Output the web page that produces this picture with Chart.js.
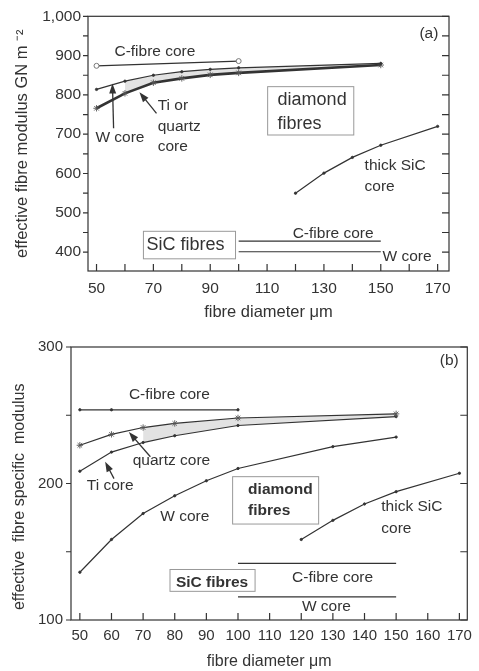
<!DOCTYPE html>
<html>
<head>
<meta charset="utf-8">
<script src="https://cdn.jsdelivr.net/npm/chart.js@4.4.1/dist/chart.umd.min.js"></script>
<style>
body { margin: 0; background: #fff; }
canvas { position: absolute; left: 0; }
#chartA { top: 0; }
#chartB { top: 330px; }
</style>
</head>
<body>
<canvas id="chartA" width="479" height="330"></canvas>
<canvas id="chartB" width="479" height="341"></canvas>
<script>
// (a) effective fibre modulus, GN m-2
var cCoreA_x = [50, 100];
var cCoreA = [874, 886];
var coreA_x = [50, 60, 70, 80, 90, 100, 150];
var wCoreA = [814, 835, 850, 859, 865, 869, 880];
var tiCoreA = [766, 804, 831, 842, 851, 856, 876];
var thickSicA_x = [120, 130, 140, 150, 170];
var thickSicA = [550, 601, 641, 672, 720];
var sicA_x = [100, 150];
var sicCA = [428, 428];
var sicWA = [401, 401];
var xTicksA = [50, 60, 70, 80, 90, 100, 110, 120, 130, 140, 150, 160, 170];
var xLabelsA = [50, 70, 90, 110, 130, 150, 170];
var yTicksA = [400, 450, 500, 550, 600, 650, 700, 750, 800, 850, 900, 950, 1000];
var yLabelsA = [400, 500, 600, 700, 800, 900, 1000];

// (b) effective fibre specific modulus
var cCoreB_x = [50, 60, 100];
var cCoreB = [254, 254, 254];
var coreB_x = [50, 60, 70, 80, 100, 150];
var quartzB = [228, 236, 241, 244, 248, 251];
var tiB = [209, 223, 230, 235, 242.5, 249];
var wCoreB_x = [50, 60, 70, 80, 90, 100, 130, 150];
var wCoreB = [135, 159, 178, 191, 202, 211, 227, 234];
var thickSicB_x = [120, 130, 140, 150, 170];
var thickSicB = [159, 173, 185, 194, 207.5];
var sicB_x = [100, 150];
var sicCB = [141.5, 141.5];
var sicWB = [117, 117];
var xTicksB = [50, 60, 70, 80, 90, 100, 110, 120, 130, 140, 150, 160, 170];
var xLabelsB = xTicksB;
var yTicksB = [100, 150, 200, 250, 300];
var yLabelsB = [100, 200, 300];

// annotations, placed in data units
var textsA = [
    {text: 'C-fibre core', x: 56.3, y: 909},
    {text: 'W core', x: 49.6, y: 690},
    {text: 'Ti or', x: 71.5, y: 773},
    {text: 'quartz', x: 71.5, y: 718},
    {text: 'core', x: 71.5, y: 667},
    {text: 'thick SiC', x: 144.3, y: 620},
    {text: 'core', x: 144.3, y: 567},
    {text: 'C-fibre core', x: 119, y: 448},
    {text: 'W core', x: 150.6, y: 388},
    {text: '(a)', x: 163.6, y: 955},
    {text: 'diamond', x: 113.7, y: 788, big: true},
    {text: 'fibres', x: 113.7, y: 725, big: true},
    {text: 'SiC fibres', x: 81.3, y: 418, big: true, align: 'center'}
];
var arrowsA = [
    {x0: 56, y0: 715, x1: 55.6, y1: 829},
    {x0: 71.1, y0: 753, x1: 65.1, y1: 807}
];
var boxesA = [
    {x0: 110.2, y0: 821, x1: 140.5, y1: 698},
    {x0: 66.5, y0: 453, x1: 98.9, y1: 383}
];

var textsB = [
    {text: 'C-fibre core', x: 65.5, y: 265.2},
    {text: 'quartz core', x: 66.7, y: 216.7},
    {text: 'Ti core', x: 52.2, y: 198.6},
    {text: 'W core', x: 75.4, y: 175.4},
    {text: 'thick SiC', x: 145.3, y: 183.3},
    {text: 'core', x: 145.3, y: 166.7},
    {text: 'C-fibre core', x: 117.1, y: 131.2},
    {text: 'W core', x: 120.2, y: 109.4},
    {text: '(b)', x: 163.8, y: 289.9},
    {text: 'diamond', x: 103.2, y: 195.7, big: true},
    {text: 'fibres', x: 103.2, y: 179.7, big: true},
    {text: 'SiC fibres', x: 91.8, y: 127.5, big: true, align: 'center'}
];
var arrowsB = [
    {x0: 72.3, y0: 219.6, x1: 65.5, y1: 237.7},
    {x0: 60.8, y0: 203.6, x1: 58, y1: 216}
];
var boxesB = [
    {x0: 98.3, y0: 205, x1: 125.5, y1: 170.3},
    {x0: 78.5, y0: 137, x1: 105.4, y1: 121}
];

var ink = '#333';
var shade = '#e2e2e2';
var fontFamily = "'Liberation Sans', Arial, sans-serif";
Chart.defaults.font.family = fontFamily;
Chart.defaults.color = ink;

function pts(xs, ys) {
    return xs.map(function(x, i) { return {x: x, y: ys[i]}; });
}

function line(xs, ys, opts) {
    return Object.assign({
        data: pts(xs, ys),
        borderColor: ink,
        borderWidth: 1.2,
        pointRadius: 0,
        pointStyle: 'circle',
        pointBackgroundColor: ink,
        pointBorderColor: ink,
        pointBorderWidth: 1,
        fill: false,
        tension: 0
    }, opts);
}

var dot = {pointRadius: 1.2, pointBorderWidth: 0.8};
var star = {pointStyle: 'star', pointRadius: 3.2, pointBorderWidth: 0.9, pointBorderColor: '#555'};

// frame, tick marks and the text/arrows/boxes
function decor(spec) {
    return {
        id: 'decor',
        afterDraw: function(chart) {
            var ctx = chart.ctx, a = chart.chartArea;
            var x = chart.scales.x, y = chart.scales.y;
            ctx.save();
            ctx.strokeStyle = ink;
            ctx.lineWidth = 1.2;
            ctx.strokeRect(a.left, a.top, a.right - a.left, a.bottom - a.top);
            ctx.beginPath();
            x.ticks.forEach(function(t) {
                var px = x.getPixelForValue(t.value);
                ctx.moveTo(px, a.bottom);
                ctx.lineTo(px, a.bottom - 7);
            });
            y.ticks.forEach(function(t) {
                var py = y.getPixelForValue(t.value);
                ctx.moveTo(a.left - 5, py);
                ctx.lineTo(a.left, py);
                ctx.moveTo(a.right, py);
                ctx.lineTo(a.right - 7, py);
            });
            ctx.stroke();

            ctx.strokeStyle = '#999';
            ctx.lineWidth = 1;
            spec.boxes.forEach(function(b) {
                var l = x.getPixelForValue(b.x0), r = x.getPixelForValue(b.x1);
                var t = y.getPixelForValue(b.y0), bt = y.getPixelForValue(b.y1);
                ctx.strokeRect(l, t, r - l, bt - t);
            });

            ctx.fillStyle = ink;
            ctx.textBaseline = 'middle';
            spec.texts.forEach(function(t) {
                ctx.font = t.big ? spec.bigFont : spec.font;
                ctx.textAlign = t.align || 'left';
                ctx.fillText(t.text, x.getPixelForValue(t.x), y.getPixelForValue(t.y));
            });

            ctx.strokeStyle = ink;
            ctx.lineWidth = 1.3;
            spec.arrows.forEach(function(ar) {
                var x0 = x.getPixelForValue(ar.x0), y0 = y.getPixelForValue(ar.y0);
                var x1 = x.getPixelForValue(ar.x1), y1 = y.getPixelForValue(ar.y1);
                var ang = Math.atan2(y1 - y0, x1 - x0);
                ctx.beginPath();
                ctx.moveTo(x0, y0);
                ctx.lineTo(x1 - 6 * Math.cos(ang), y1 - 6 * Math.sin(ang));
                ctx.stroke();
                ctx.beginPath();
                ctx.moveTo(x1, y1);
                ctx.lineTo(x1 - 10 * Math.cos(ang) + 3.5 * Math.sin(ang), y1 - 10 * Math.sin(ang) - 3.5 * Math.cos(ang));
                ctx.lineTo(x1 - 10 * Math.cos(ang) - 3.5 * Math.sin(ang), y1 - 10 * Math.sin(ang) + 3.5 * Math.cos(ang));
                ctx.closePath();
                ctx.fill();
            });
            ctx.restore();
        }
    };
}

function axes(o) {
    return {
        x: {
            type: 'linear', min: o.xMin, max: o.xMax,
            afterBuildTicks: function(s) { s.ticks = o.xTicks.map(function(v) { return {value: v}; }); },
            afterFit: function(s) { s.height = o.xH; },
            grid: {display: false, drawTicks: false},
            border: {display: false},
            ticks: {
                padding: o.xPad, autoSkip: false, maxRotation: 0, color: ink,
                font: {size: o.tickSize},
                callback: function(v) { return o.xLabels.indexOf(v) >= 0 ? String(v) : ''; }
            },
            title: {display: true, text: 'fibre diameter \u03bcm', color: ink,
                font: {size: o.titleSize}, padding: {top: 0, bottom: o.xTitlePad}}
        },
        y: {
            type: 'linear', min: o.yMin, max: o.yMax,
            afterBuildTicks: function(s) { s.ticks = o.yTicks.map(function(v) { return {value: v}; }); },
            afterFit: function(s) { s.width = o.yW; },
            grid: {display: false, drawTicks: false},
            border: {display: false},
            ticks: {
                padding: o.yPad, autoSkip: false, color: ink,
                font: {size: o.tickSize},
                callback: function(v) { return o.yLabels.indexOf(v) >= 0 ? v.toLocaleString('en-US') : ''; }
            },
            title: {display: true, text: o.yTitle, color: ink,
                font: {size: o.titleSize}, padding: {top: o.yTitlePad, bottom: 0}}
        }
    };
}

var chartA = new Chart(document.getElementById('chartA'), {
    type: 'line',
    data: {
        datasets: [
            line(cCoreA_x, cCoreA, {pointRadius: 2.5, pointBackgroundColor: '#fff', pointBorderColor: '#777'}),
            line(coreA_x, wCoreA, dot),
            line(coreA_x, tiCoreA, Object.assign({borderWidth: 2.6}, star)),
            line(thickSicA_x, thickSicA, dot),
            line(sicA_x, sicCA),
            line(sicA_x, sicWA),
            // shaded gap between W core and Ti/quartz core
            line(coreA_x.slice(1), tiCoreA.slice(1), {borderWidth: 0, fill: 1, backgroundColor: shade})
        ]
    },
    options: {
        responsive: false,
        animation: false,
        devicePixelRatio: 1,
        layout: {padding: {top: 14, right: 30, left: 0, bottom: 0}},
        plugins: {legend: {display: false}, tooltip: {enabled: false}},
        scales: axes({
            xMin: 47, xMax: 174, xTicks: xTicksA, xLabels: xLabelsA, xH: 59, xPad: 8, xTitlePad: 8,
            yMin: 352, yMax: 1000, yTicks: yTicksA, yLabels: yLabelsA, yW: 88, yPad: 7, yTitlePad: 13,
            tickSize: 15.5, titleSize: 16.5,
            yTitle: 'effective fibre modulus GN m \u207b\u00b2'
        })
    },
    plugins: [decor({texts: textsA, arrows: arrowsA, boxes: boxesA,
        font: '15.5px ' + fontFamily, bigFont: '18px ' + fontFamily})]
});

var chartB = new Chart(document.getElementById('chartB'), {
    type: 'line',
    data: {
        datasets: [
            line(cCoreB_x, cCoreB, dot),
            line(coreB_x, quartzB, star),
            line(coreB_x, tiB, dot),
            line(wCoreB_x, wCoreB, dot),
            line(thickSicB_x, thickSicB, dot),
            line(sicB_x, sicCB),
            line(sicB_x, sicWB),
            // shaded gap between quartz core and Ti core
            line(coreB_x.slice(2), tiB.slice(2), {borderWidth: 0, fill: 1, backgroundColor: shade})
        ]
    },
    options: {
        responsive: false,
        animation: false,
        devicePixelRatio: 1,
        layout: {padding: {top: 14, right: 3, left: 0, bottom: 0}},
        plugins: {legend: {display: false}, tooltip: {enabled: false}},
        scales: axes({
            xMin: 47.2, xMax: 172.5, xTicks: xTicksB, xLabels: xLabelsB, xH: 51, xPad: 7, xTitlePad: 0,
            yMin: 100, yMax: 300, yTicks: yTicksB, yLabels: yLabelsB, yW: 71, yPad: 8, yTitlePad: 10,
            tickSize: 15, titleSize: 16,
            yTitle: 'effective  fibre specific  modulus      '
        })
    },
    plugins: [decor({texts: textsB, arrows: arrowsB, boxes: boxesB,
        font: '15.5px ' + fontFamily, bigFont: 'bold 15.5px ' + fontFamily})]
});
</script>
</body>
</html>
